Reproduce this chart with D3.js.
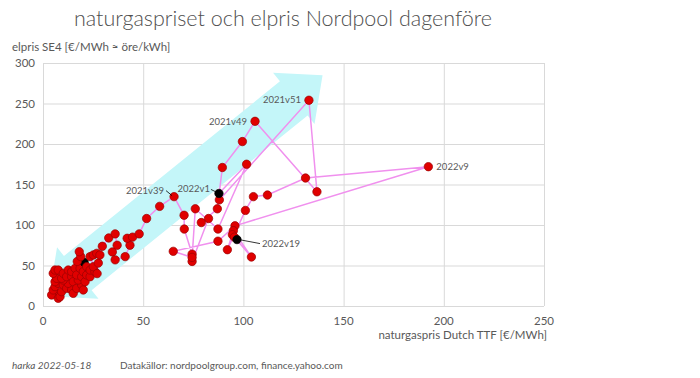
<!DOCTYPE html>
<html>
<head>
<meta charset="utf-8">
<script src="https://cdn.jsdelivr.net/npm/d3@7"></script>
<style>
  body { margin: 0; background: #fff; }
  text { font-family: Lato, "Open Sans", sans-serif; fill: #595959; }
</style>
</head>
<body>
<svg id="chart" width="700" height="378"></svg>
<script>
// weekly points, 2020 -> 2022v19 (gas price TTF, el price SE4)
var gas = [6.8, 4.3, 7.6, 8.5, 5.1, 6.0, 9.3, 7.6, 6.0, 10.1, 11.8, 14.3, 15.1, 12.6, 10.1, 6.8, 5.1, 6.0, 7.6, 9.3,
    10.1, 11.8, 12.6, 14.3, 15.1, 16.8, 19.3, 20.1, 17.6, 14.3, 16.0, 16.8, 19.3, 18.5, 20.5,
    17.1, 18.8, 18.1, 20.1, 21.0, 21.8, 23.5, 21.8, 23.5, 25.9, 25.1, 27.6, 27.0, 23.5, 25.1, 26.8, 28.4,
    29.6, 32.8, 36.0, 37.0, 34.6, 36.0, 41.0, 43.4, 42.0, 44.7, 48.0, 51.7, 58.2, 65.4,
    70.4, 70.5, 74.4, 74.4, 82.6, 79.0, 87.0, 89.5, 99.5, 105.8, 136.7, 132.7, 88.0,
    87.8, 101.6, 87.3, 76.0, 74.4, 65.0, 87.3, 95.8, 192.3, 131.0, 112.0, 105.0, 101.0, 92.0, 95.0, 104.0, 94.5, 95.5, 96.8];
var elpris = [15.6, 13.6, 9.5, 11.5, 19.8, 23.9, 17.7, 28, 30, 26, 21.8, 19.8, 15.6, 28, 32.1, 34.2, 40.3, 44.4, 44.4, 34.2,
    40.3, 36.2, 44.4, 36.2, 30, 21.8, 26, 19.8, 32.1, 42.4, 46.5, 38.3, 36.2, 46.5, 54,
    55, 61, 67, 42.4, 30, 38.3, 36.2, 48.5, 44.4, 42.4, 48.5, 53, 40, 61, 63, 65, 63,
    73.7, 84, 89, 75, 66.7, 57, 61, 75, 83.6, 85, 89, 108, 123, 135,
    112, 95, 64, 55, 108, 103, 120, 171, 203, 228, 141, 254, 131,
    139, 175, 95, 120, 60, 67.5, 80, 99, 172, 158, 137, 135, 118, 69.5, 93, 60.5, 88, 85, 82];

// highlighted weeks (black markers) and labelled weeks
var blackWeeks = ["2021v1", "2022v1", "2022v19"];
var labelWeeks = ["2021v39", "2021v49", "2021v51", "2022v1", "2022v9", "2022v19"];
var labelIndex = {"2021v1": 34, "2021v39": 65, "2021v49": 75, "2021v51": 77,
    "2022v1": 79, "2022v9": 87, "2022v19": 97};

var xTicks = [0, 50, 100, 150, 200, 250];
var yTicks = [0, 50, 100, 150, 200, 250, 300];

var svg = d3.select("#chart"),
    margin = {top: 63, right: 156, bottom: 72, left: 43},
    width = +svg.attr("width") - margin.left - margin.right,
    height = +svg.attr("height") - margin.top - margin.bottom;

var x = d3.scaleLinear().domain([0, 250]).range([margin.left, margin.left + width]);
var y = d3.scaleLinear().domain([0, 300]).range([margin.top + height, margin.top]);

var data = gas.map(function (g, i) {
    return {gas: g, el: elpris[i], i: i};
});

// title
svg.append("text")
    .attr("x", 283)
    .attr("y", 26)
    .attr("text-anchor", "middle")
    .attr("font-size", 21.5)
    .attr("font-weight", 300)
    .style("fill", "#505050")
    .text("naturgaspriset och elpris Nordpool dagenföre");

// grid
var grid = svg.append("g").attr("stroke", "#d9d9d9").attr("stroke-width", 1);
grid.selectAll(".gx")
    .data(xTicks)
    .enter().append("line")
    .attr("x1", function (d) { return x(d) + 0.5; })
    .attr("x2", function (d) { return x(d) + 0.5; })
    .attr("y1", y(0))
    .attr("y2", y(300));
grid.selectAll(".gy")
    .data(yTicks)
    .enter().append("line")
    .attr("x1", x(0))
    .attr("x2", x(250))
    .attr("y1", function (d) { return y(d) + 0.5; })
    .attr("y2", function (d) { return y(d) + 0.5; });

// big double arrow along the trend
var a0 = [x(3), y(12)], a1 = [x(139.5), y(285)];
var dx = a1[0] - a0[0], dy = a1[1] - a0[1], len = Math.sqrt(dx * dx + dy * dy);
var ux = dx / len, uy = dy / len, nx = -uy, ny = ux;
var headL = 37, headW = 33, bodyW = 22;
function pt(s, w) {
    return [a0[0] + ux * s + nx * w, a0[1] + uy * s + ny * w];
}
var arrow = [pt(0, 0), pt(headL, headW), pt(headL, bodyW), pt(len - headL, bodyW), pt(len - headL, headW),
    pt(len, 0), pt(len - headL, -headW), pt(len - headL, -bodyW), pt(headL, -bodyW), pt(headL, -headW)];
svg.append("path")
    .attr("d", d3.line()(arrow) + "Z")
    .attr("fill", "#c4f6f9");

// axes labels
svg.append("g")
    .selectAll("text")
    .data(yTicks)
    .enter().append("text")
    .attr("x", x(0) - 8)
    .attr("y", function (d) { return y(d); })
    .attr("dy", "0.35em")
    .attr("text-anchor", "end")
    .attr("font-size", 11.5)
    .text(function (d) { return d; });

svg.append("g")
    .selectAll("text")
    .data(xTicks)
    .enter().append("text")
    .attr("x", function (d) { return x(d); })
    .attr("y", y(0) + 19)
    .attr("text-anchor", "middle")
    .attr("font-size", 11.5)
    .text(function (d) { return d; });

svg.append("text")
    .attr("x", 12)
    .attr("y", 51)
    .attr("font-size", 11.5)
    .text("elpris SE4 [€/MWh ≈ öre/kWh]");

svg.append("text")
    .attr("x", x(250) + 3)
    .attr("y", 339)
    .attr("text-anchor", "end")
    .attr("font-size", 11.5)
    .text("naturgaspris Dutch TTF [€/MWh]");

// path through the weeks
svg.append("path")
    .datum(data)
    .attr("fill", "none")
    .attr("stroke", "#f090ee")
    .attr("stroke-width", 1.5)
    .attr("d", d3.line()
        .x(function (d) { return x(d.gas); })
        .y(function (d) { return y(d.el); }));

var blackIdx = blackWeeks.map(function (w) { return labelIndex[w]; });

svg.append("g")
    .selectAll("circle")
    .data(data)
    .enter().append("circle")
    .attr("cx", function (d) { return x(d.gas); })
    .attr("cy", function (d) { return y(d.el); })
    .attr("r", 4.2)
    .attr("fill", function (d) { return blackIdx.indexOf(d.i) >= 0 ? "#000" : "#e00000"; })
    .attr("stroke", function (d) { return blackIdx.indexOf(d.i) >= 0 ? "#000" : "#900"; })
    .attr("stroke-width", 0.7);

// labels next to points (offset, anchor, optional leader line)
var labelStyle = {
    "2021v39": {dx: -10, dy: -6, anchor: "end", lead: [[-8, -6], [-2, -1]]},
    "2021v49": {dx: -8, dy: 0, anchor: "end"},
    "2021v51": {dx: -8, dy: -1, anchor: "end"},
    "2022v1": {dx: -9, dy: -5, anchor: "end", lead: [[-8, -4], [-2, -1]]},
    "2022v9": {dx: 8, dy: 0, anchor: "start"},
    "2022v19": {dx: 25, dy: 4, anchor: "start", lead: [[2, 0], [23, 4]]}
};

var lab = svg.append("g");
labelWeeks.forEach(function (w) {
    var d = data[labelIndex[w]], s = labelStyle[w];
    var px = x(d.gas), py = y(d.el);
    if (s.lead) {
        lab.append("line")
            .attr("x1", px + s.lead[0][0]).attr("y1", py + s.lead[0][1])
            .attr("x2", px + s.lead[1][0]).attr("y2", py + s.lead[1][1])
            .attr("stroke", "#000").attr("stroke-width", 0.8);
    }
    lab.append("text")
        .attr("x", px + s.dx)
        .attr("y", py + s.dy)
        .attr("dy", "0.35em")
        .attr("text-anchor", s.anchor)
        .attr("font-size", 9.5)
        .text(w);
});

// footer
svg.append("text")
    .attr("x", 12)
    .attr("y", 369)
    .attr("font-size", 10)
    .attr("font-style", "italic")
    .text("harka 2022-05-18");

svg.append("text")
    .attr("x", 120)
    .attr("y", 369)
    .attr("font-size", 10)
    .text("Datakällor: nordpoolgroup.com, finance.yahoo.com");
</script>
</body>
</html>
